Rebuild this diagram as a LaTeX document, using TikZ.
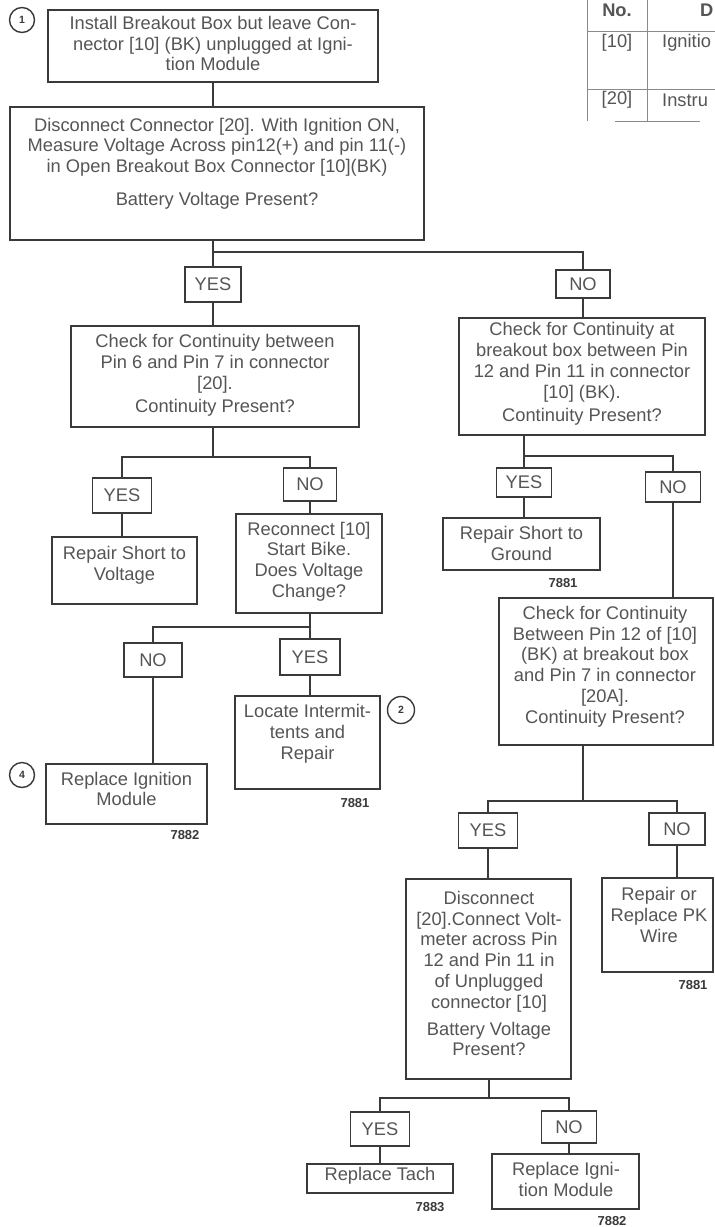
\documentclass[tikz,border=0pt]{standalone}
\usepackage{fontspec}
\setmainfont{Liberation Sans}
\definecolor{ln}{HTML}{3A3A3A}
\definecolor{txc}{HTML}{555555}
\definecolor{tbl}{HTML}{8A8A8A}
\begin{document}
\begin{tikzpicture}[x=1pt,y=-1pt,
 box/.style={draw=ln,line width=1.7pt,inner sep=0pt},
 tx/.style={text=txc,align=center,inner sep=0pt,font=\fontsize{18.3}{20.8}\selectfont},
 yn/.style={draw=ln,line width=1.7pt,inner sep=0pt,text=txc,font=\fontsize{18.3}{20.8}\selectfont},
 code/.style={inner sep=0pt,text=ln,font=\bfseries\fontsize{13}{13}\selectfont},
 num/.style={circle,draw=ln,line width=1.4pt,inner sep=0pt,text=ln,font=\bfseries\fontsize{10.5}{10.5}\selectfont},
 wire/.style={draw=ln,line width=1.7pt},
 tline/.style={draw=tbl,line width=1pt},
 ttx/.style={text=txc,inner sep=0pt,font=\fontsize{18.3}{20.8}\selectfont}]
\useasboundingbox (0,0) rectangle (715,1227);
\clip (0,0) rectangle (715,1227);
\fill[white] (0,0) rectangle (715,1227);

% table (top right)
\draw[tline] (587,0) -- (587,121);
\draw[tline] (647,0) -- (647,121);
\draw[tline] (587,31) -- (715,31);
\draw[tline] (587,89) -- (715,89);
\draw[tline] (615,121) -- (700,121);
\node[ttx,font=\bfseries\fontsize{18.3}{20.8}\selectfont] (hno) at (617,10) {No.};
\node[ttx,anchor=west,font=\bfseries\fontsize{18.3}{20.8}\selectfont] (hdesc) at (700,10) {D};
\node[ttx] (t10) at (617,43) {[10]};
\node[ttx,anchor=west] (t10d) at (662,43) {Ignitio};
\node[ttx] (t20) at (617,100) {[20]};
\node[ttx,anchor=west] (t20d) at (662,100) {Instru};

% boxes
\node[box,minimum width=330,minimum height=72] (b1) at (213,46) {};
\node[tx] (b1t) at (213,43.5) {Install Breakout Box but leave Con-\\nector [10] (BK) unplugged at Igni-\\tion Module};
\node[box,minimum width=414,minimum height=133] (b2) at (217,173.5) {};
\node[tx] (b2t) at (217,163.5) {Disconnect Connector [20]. With Ignition ON,\\Measure Voltage Across pin12(+) and pin 11(-)\\in Open Breakout Box Connector [10](BK)\\[12pt]Battery Voltage Present?};

\node[yn,minimum width=56,minimum height=35] (yes1) at (213,284.5) {YES};
\node[yn,minimum width=54,minimum height=28] (no1) at (583,284) {NO};

\node[box,minimum width=288,minimum height=101] (c1) at (215,376.5) {};
\node[tx] (c1t) at (215,375.5) {Check for Continuity between\\Pin 6 and Pin 7 in connector\\{[20].}\\[3pt]Continuity Present?};

\node[yn,minimum width=59,minimum height=35] (yes2) at (122,495.5) {YES};
\node[yn,minimum width=53,minimum height=33] (no2) at (310,484.5) {NO};
\node[box,minimum width=145,minimum height=67] (rv) at (124.5,570.5) {};
\node[tx] (rvt) at (124.5,565.5) {Repair Short to\\Voltage};
\node[box,minimum width=146,minimum height=99] (rc) at (309,563.5) {};
\node[tx] (rct) at (309,561.5) {Reconnect [10]\\Start Bike.\\Does Voltage\\Change?};

\node[yn,minimum width=58,minimum height=34] (no3) at (153,660) {NO};
\node[yn,minimum width=60,minimum height=36] (yes3) at (310,657) {YES};
\node[box,minimum width=145,minimum height=93] (loc) at (307.5,742.5) {};
\node[tx] (loct) at (307.5,734) {Locate Intermit-\\tents and\\Repair};
\node[box,minimum width=161,minimum height=60] (rim) at (126.5,794) {};
\node[tx] (rimt) at (126.5,789) {Replace Ignition\\Module};

\node[box,minimum width=246,minimum height=117] (c2) at (582,376.5) {};
\node[tx] (c2t) at (582,374) {Check for Continuity at\\breakout box between Pin\\12 and Pin 11 in connector\\{[10] (BK).}\\[3pt]Continuity Present?};
\node[yn,minimum width=55,minimum height=29] (yes4) at (524,482.5) {YES};
\node[yn,minimum width=55,minimum height=30] (no4) at (673,487) {NO};
\node[box,minimum width=157,minimum height=52] (rg) at (521.5,544) {};
\node[tx] (rgt) at (521.5,543.5) {Repair Short to\\Ground};

\node[box,minimum width=214,minimum height=147] (c3) at (606,671.5) {};
\node[tx] (c3t) at (605,666.5) {Check for Continuity\\Between Pin 12 of [10]\\(BK) at breakout box\\and Pin 7 in connector\\{[20A].}\\Continuity Present?};
\node[yn,minimum width=59,minimum height=35] (yes5) at (488,830.5) {YES};
\node[yn,minimum width=56,minimum height=32] (no5) at (677,829) {NO};
\node[box,minimum width=165,minimum height=200] (dc) at (488.5,979) {};
\node[tx] (dct) at (489,973.5) {Disconnect\\{[20].Connect Volt-}\\meter across Pin\\12 and Pin 11 in\\of Unplugged\\connector [10]\\[6pt]Battery Voltage\\Present?};
\node[box,minimum width=111,minimum height=94] (rpk) at (657.5,925) {};
\node[tx] (rpkt) at (659,915) {Repair or\\Replace PK\\Wire};

\node[yn,minimum width=59,minimum height=34] (yes6) at (380,1129) {YES};
\node[yn,minimum width=55,minimum height=32] (no6) at (569,1127) {NO};
\node[box,minimum width=146,minimum height=29] (rt) at (380,1178.5) {};
\node[tx] (rtt) at (380,1175.5) {Replace Tach};
\node[box,minimum width=147,minimum height=55] (ri2) at (565.5,1181.5) {};
\node[tx] (ri2t) at (566,1179.5) {Replace Igni-\\tion Module};

% codes
\node[code] (k1) at (355,803) {7881};
\node[code] (k2) at (185,835) {7882};
\node[code] (k3) at (563,583) {7881};
\node[code] (k4) at (693,985) {7881};
\node[code] (k5) at (430,1207) {7883};
\node[code] (k6) at (612,1221) {7882};

% circled numbers
\node[num,minimum size=25] (n1) at (22,20) {1};
\node[num,minimum size=27] (n2) at (401,710) {2};
\node[num,minimum size=25] (n4) at (22,775) {4};

% connectors
\coordinate (j1) at (213,252);
\coordinate (j2) at (213,457);
\coordinate (j3) at (310,627);
\coordinate (j4) at (524,456);
\coordinate (j5) at (583,801);
\coordinate (j6) at (489,1098);

\draw[wire] (b1.south) -- (b1.south |- b2.north);
\draw[wire] (b2.south -| j1) -- (j1);
\draw[wire] (yes1.north) -- (j1) -| (no1.north);
\draw[wire] (yes1.south) -- (yes1.south |- c1.north);
\draw[wire] (c1.south -| j2) -- (j2);
\draw[wire] (yes2.north) |- (j2) -| (no2.north);
\draw[wire] (yes2.south) -- (yes2.south |- rv.north);
\draw[wire] (no2.south) -- (no2.south |- rc.north);
\draw[wire] (rc.south -| j3) -- (j3);
\draw[wire] (no3.north) |- (j3) -| (yes3.north);
\draw[wire] (yes3.south) -- (yes3.south |- loc.north);
\draw[wire] (no3.south) -- (no3.south |- rim.north);

\draw[wire] (no1.south) -- (no1.south |- c2.north);
\draw[wire] (c2.south -| j4) -- (j4);
\draw[wire] (yes4.north) |- (j4) -| (no4.north);
\draw[wire] (yes4.south) -- (yes4.south |- rg.north);
\draw[wire] (no4.south) -- (no4.south |- c3.north);
\draw[wire] (c3.south -| j5) -- (j5);
\draw[wire] (yes5.north) |- (j5) -| (no5.north);
\draw[wire] (yes5.south) -- (yes5.south |- dc.north);
\draw[wire] (no5.south) -- (no5.south |- rpk.north);
\draw[wire] (dc.south -| j6) -- (j6);
\draw[wire] (yes6.north) |- (j6) -| (no6.north);
\draw[wire] (yes6.south) -- (yes6.south |- rt.north);
\draw[wire] (no6.south) -- (no6.south |- ri2.north);
\end{tikzpicture}
\end{document}
